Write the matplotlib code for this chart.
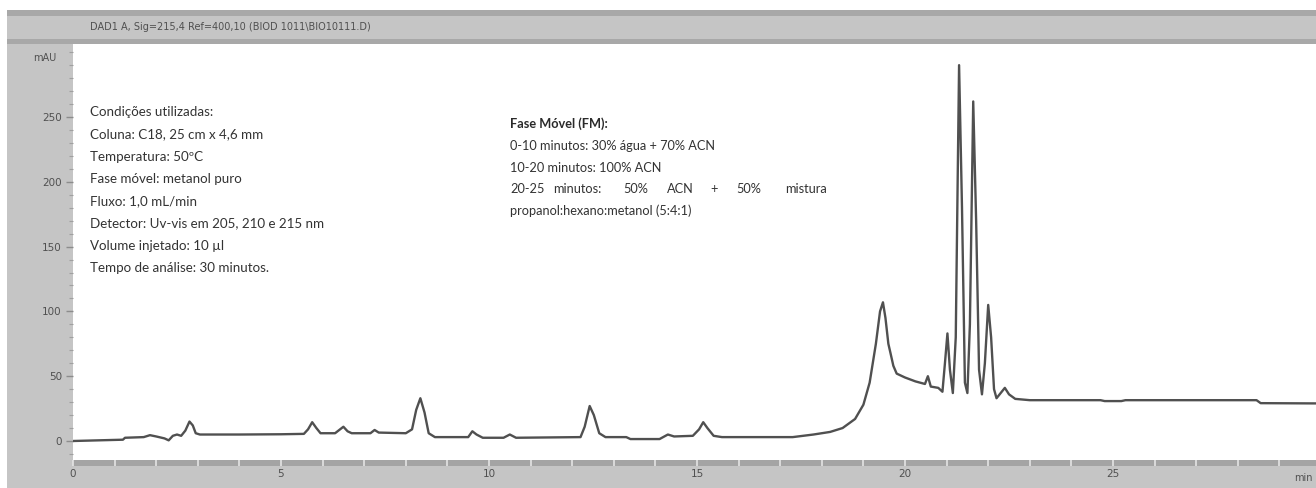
import matplotlib
matplotlib.use('Agg')
import matplotlib.pyplot as plt
from matplotlib.patches import Rectangle
from matplotlib.ticker import MultipleLocator

# ---- data (time in min, signal in mAU) ----
time_min = [0.00, 0.60, 1.20, 1.25, 1.70, 1.85, 2.00, 2.20, 2.30, 2.40, 2.50, 2.60,
            2.70, 2.80, 2.88, 2.95, 3.05, 4.00, 5.00, 5.55, 5.65, 5.75, 5.85, 5.95,
            6.30, 6.40, 6.50, 6.60, 6.70, 7.15, 7.25, 7.35, 8.00, 8.15, 8.25, 8.35,
            8.45, 8.55, 8.70, 9.50, 9.60, 9.70, 9.85, 10.35, 10.50, 10.65, 12.20,
            12.30, 12.42, 12.52, 12.65, 12.80, 13.30, 13.40, 14.10, 14.30, 14.45,
            14.90, 15.05, 15.15, 15.25, 15.40, 15.60, 17.30, 17.80, 18.20, 18.50,
            18.80, 19.00, 19.15, 19.30, 19.40, 19.47, 19.53, 19.60, 19.65, 19.72,
            19.80, 20.00, 20.25, 20.48, 20.55, 20.62, 20.80, 20.90, 20.96, 21.02,
            21.08, 21.15, 21.22, 21.30, 21.37, 21.44, 21.50, 21.56, 21.64, 21.71,
            21.78, 21.85, 21.92, 22.00, 22.07, 22.14, 22.20, 22.30, 22.40, 22.50,
            22.65, 23.00, 24.70, 24.80, 25.20, 25.30, 28.45, 28.55, 29.90]
signal_mau = [0.0, 0.5, 1.0, 2.5, 3.0, 4.5, 3.5, 2.0, 0.5, 4.0, 5.0, 4.0,
              8.0, 15.0, 12.0, 6.0, 5.0, 5.0, 5.2, 5.5, 9.0, 14.5, 10.0, 6.0,
              6.0, 8.5, 11.0, 7.5, 6.0, 6.0, 8.5, 6.5, 6.0, 9.0, 24.0, 33.0,
              22.0, 6.0, 3.0, 3.0, 7.5, 5.0, 2.5, 2.5, 5.0, 2.5, 3.0,
              11.0, 27.0, 20.0, 6.0, 3.0, 3.0, 1.5, 1.5, 5.0, 3.5,
              4.0, 9.0, 14.5, 10.0, 4.0, 3.0, 3.0, 5.0, 7.0, 10.0,
              17.0, 28.0, 45.0, 75.0, 100.0, 107.0, 95.0, 75.0, 68.0, 58.0,
              52.0, 49.0, 46.0, 44.0, 50.0, 42.0, 41.0, 38.0, 60.0, 83.0,
              55.0, 37.0, 80.0, 290.0, 180.0, 45.0, 37.0, 90.0, 262.0, 170.0,
              55.0, 36.0, 60.0, 105.0, 80.0, 40.0, 33.0, 37.0, 41.0, 36.0,
              32.5, 31.5, 31.5, 30.8, 30.8, 31.5, 31.5, 29.2, 29.0]

x_ticks = [0, 5, 10, 15, 20, 25]
y_ticks = [0, 50, 100, 150, 200, 250]

title_text = "DAD1 A, Sig=215,4 Ref=400,10 (BIOD 1011\\BIO10111.D)"
cond_lines = ["Condições utilizadas:",
              "Coluna: C18, 25 cm x 4,6 mm",
              "Temperatura: 50ºC",
              "Fase móvel: metanol puro",
              "Fluxo: 1,0 mL/min",
              "Detector: Uv-vis em 205, 210 e 215 nm",
              "Volume injetado: 10 µl",
              "Tempo de análise: 30 minutos."]
fm_title = "Fase Móvel (FM):"
fm_lines = ["0-10 minutos: 30% água + 70% ACN",
            "10-20 minutos: 100% ACN",
            None,
            "propanol:hexano:metanol (5:4:1)"]
fm_justified = ["20-25", "minutos:", "50%", "ACN", "+", "50%", "mistura"]

# ---- layout helpers (pixel -> figure fraction) ----
W, H = 1316, 488
def fx(px):
    return px / W
def fy(py):
    return 1 - py / H

fig = plt.figure(figsize=(W / 100, H / 100), dpi=100)
fig.patch.set_facecolor('white')

# grey frame (drawn beneath the axes)
def frame_rect(x0, y_top, x1, y_bot, color):
    fig.patches.append(Rectangle((fx(x0), fy(y_bot)), fx(x1) - fx(x0), (y_bot - y_top) / H,
                                 transform=fig.transFigure, facecolor=color,
                                 edgecolor='none', zorder=-10))

frame_rect(7, 10, 1316, 488, '#c5c5c5')
frame_rect(7, 10, 1316, 16, '#a8a8a8')
frame_rect(7, 39, 1316, 44, '#a8a8a8')
frame_rect(73, 460, 1316, 466, '#a4a4a4')

ax = fig.add_axes([fx(73), fy(460), 1 - fx(73), (460 - 44) / H])
ax.set_zorder(1)
ax.set_facecolor('white')
ax.plot(time_min, signal_mau, color='#505050', lw=1.7, solid_joinstyle='round')

ppu = (441 - 117) / 250.0
ax.set_xlim(0, (1316 - 73) / 41.6)
ax.set_ylim(-(460 - 441) / ppu, (441 - 44) / ppu)

for s in ax.spines.values():
    s.set_visible(False)

ax.set_xticks(x_ticks)
ax.set_yticks(y_ticks)
ax.xaxis.set_minor_locator(MultipleLocator(1))
ax.yaxis.set_minor_locator(MultipleLocator(10))
ax.tick_params(axis='x', which='both', direction='out', length=4.3, width=1.2,
               color='#e4e4e4', labelsize=7.5, labelcolor='#505050', pad=2.5)
ax.tick_params(axis='y', which='major', direction='out', length=5, width=1,
               color='#8c8c8c', labelsize=7.5, labelcolor='#505050', pad=3)
ax.tick_params(axis='y', which='minor', direction='out', length=3, width=0.8,
               color='#a0a0a0')

fig.text(fx(45), fy(58), "mAU", fontsize=7, color='#505050', ha='center', va='center')
fig.text(fx(1303), fy(478), "min", fontsize=7, color='#505050', ha='center', va='center')
fig.text(fx(90), fy(27), title_text, fontsize=7, color='#505050', ha='left', va='center')

txt_font = ['Lato', 'DejaVu Sans']
for i, line in enumerate(cond_lines):
    fig.text(fx(90), fy(112 + 22.3 * i), line, fontsize=9.6, color='#333333',
             ha='left', va='center', family=txt_font, zorder=5)

fig.text(fx(510), fy(124), fm_title, fontsize=9.2, color='#2a2a2a', ha='left',
         va='center', family=txt_font, fontweight='bold', zorder=5)
for i, line in enumerate(fm_lines):
    if line is None:
        continue
    fig.text(fx(510), fy(146 + 21.7 * i), line, fontsize=9.2, color='#333333',
             ha='left', va='center', family=txt_font, zorder=5)
word_x = [510, 553, 623, 667, 710, 736, 785]
for wx, word in zip(word_x, fm_justified):
    fig.text(fx(wx), fy(146 + 21.7 * 2), word, fontsize=9.2, color='#333333',
             ha='left', va='center', family=txt_font, zorder=5)

fig.savefig('out.png', dpi=100, facecolor='white')
